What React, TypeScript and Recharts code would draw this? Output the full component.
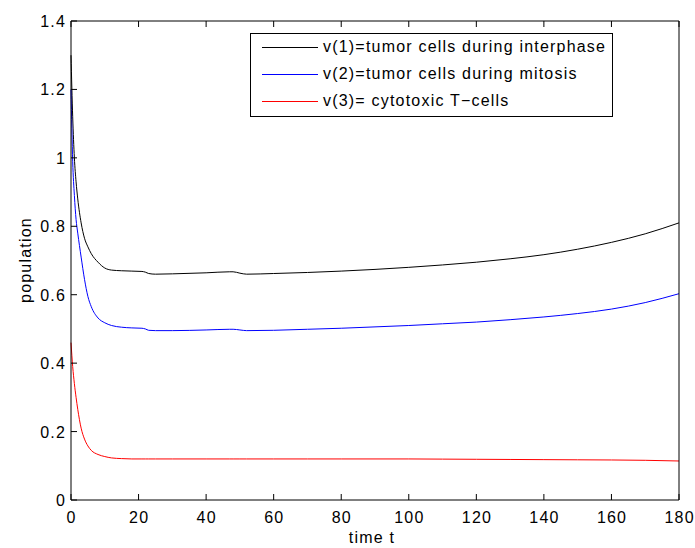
import React from 'react';
import {
  LineChart,
  Line,
  XAxis,
  YAxis,
  Legend,
  Label,
} from 'recharts';

// time samples (denser near t=0 where the curves drop fast)
const timeT = [
  0, 0.5, 1, 1.5, 2, 3, 4, 5, 6, 8, 10, 12, 15, 18, 21, 22, 23, 25, 30, 40, 47, 48, 50, 52,
  60, 70, 80, 90, 100, 110, 120, 130, 140, 150, 160, 170, 180,
];

// v(1) tumor cells during interphase
const interphase = [
  1.3, 1.12, 1.0, 0.93, 0.88, 0.81, 0.765, 0.74, 0.72, 0.695, 0.678, 0.672, 0.67, 0.669, 0.668,
  0.666, 0.662, 0.66, 0.661, 0.664, 0.667, 0.667, 0.663, 0.66, 0.662, 0.665, 0.669, 0.674, 0.68,
  0.687, 0.695, 0.705, 0.717, 0.733, 0.753, 0.778, 0.81,
];

// v(2) tumor cells during mitosis
const mitosis = [
  1.2, 0.99, 0.89, 0.82, 0.78, 0.71, 0.645, 0.595, 0.565, 0.532, 0.518, 0.51, 0.505, 0.503, 0.502,
  0.5, 0.496, 0.495, 0.495, 0.497, 0.499, 0.499, 0.497, 0.495, 0.496, 0.499, 0.502, 0.506, 0.51,
  0.515, 0.52, 0.527, 0.535, 0.545, 0.558, 0.577, 0.603,
];

// v(3) cytotoxic T-cells
const tCells = [
  0.46, 0.39, 0.34, 0.3, 0.265, 0.21, 0.178, 0.158, 0.145, 0.133, 0.127, 0.123, 0.121, 0.12, 0.12,
  0.12, 0.12, 0.12, 0.12, 0.12, 0.12, 0.12, 0.12, 0.12, 0.12, 0.12, 0.12, 0.12, 0.12, 0.1195,
  0.119, 0.1185, 0.118, 0.1175, 0.117, 0.116, 0.114,
];

const xTicks = [0, 20, 40, 60, 80, 100, 120, 140, 160, 180];
const yTicks = [0, 0.2, 0.4, 0.6, 0.8, 1, 1.2, 1.4];

const seriesInfo = [
  { key: 'v1', name: 'v(1)=tumor cells during interphase', color: '#000000' },
  { key: 'v2', name: 'v(2)=tumor cells during mitosis', color: '#0000ff' },
  { key: 'v3', name: 'v(3)= cytotoxic T\u2212cells', color: '#ff0000' },
];

const data = timeT.map((t, i) => ({
  t,
  v1: interphase[i],
  v2: mitosis[i],
  v3: tCells[i],
}));

const FONT = '"Liberation Sans", Arial, Helvetica, sans-serif';
const SPACING = 1.2; // helvetica in the original renders wider
const TICK_LEN = 6;

// matlab style: ticks point into the box, labels outside
const BottomTick = (props: any) => {
  const { x, y, payload } = props;
  return (
    <g>
      <line x1={x} y1={y} x2={x} y2={y - TICK_LEN} stroke="#000" />
      <text
        x={x + SPACING / 2}
        y={y + 23}
        textAnchor="middle"
        fontSize={16}
        fontFamily={FONT}
        letterSpacing={SPACING}
        fill="#000"
      >
        {payload.value}
      </text>
    </g>
  );
};

const TopTick = (props: any) => {
  const { x, y } = props;
  return <line x1={x} y1={y} x2={x} y2={y + TICK_LEN} stroke="#000" />;
};

const LeftTick = (props: any) => {
  const { x, y, payload } = props;
  return (
    <g>
      <line x1={x} y1={y} x2={x + TICK_LEN} y2={y} stroke="#000" />
      <text
        x={x - 5}
        y={y + 6}
        textAnchor="end"
        fontSize={16}
        fontFamily={FONT}
        letterSpacing={SPACING}
        fill="#000"
      >
        {payload.value}
      </text>
    </g>
  );
};

const RightTick = (props: any) => {
  const { x, y } = props;
  return <line x1={x} y1={y} x2={x - TICK_LEN} y2={y} stroke="#000" />;
};

const renderLegend = () => (
  <div
    style={{
      width: 361,
      height: 82,
      border: '1px solid #000',
      background: '#fff',
      fontFamily: FONT,
      fontSize: 16,
      letterSpacing: SPACING,
      color: '#000',
      boxSizing: 'content-box',
    }}
  >
    {seriesInfo.map((s, i) => (
      <div
        key={s.key}
        style={{ position: 'absolute', left: 0, top: 4 + i * 27, height: 20, display: 'flex', alignItems: 'center' }}
      >
        <span style={{ display: 'inline-block', marginLeft: 12, width: 56, height: 1, background: s.color }} />
        <span style={{ marginLeft: 5, whiteSpace: 'nowrap' }}>{s.name}</span>
      </div>
    ))}
  </div>
);

export default function App() {
  return (
    <div style={{ position: 'absolute', left: 0, top: 0, width: 695, height: 548, background: '#fff' }}>
      <LineChart width={695} height={548} data={data} margin={{ top: 0, right: 0, bottom: 0, left: 0 }}>
        <XAxis
          xAxisId="b"
          dataKey="t"
          type="number"
          domain={[0, 180]}
          ticks={xTicks}
          interval={0}
          height={48}
          tickSize={0}
          tickMargin={0}
          tickLine={false}
          tick={<BottomTick />}
          axisLine={{ stroke: '#000' }}
        >
          <Label
            content={() => (
              <text
                x={372}
                y={543}
                textAnchor="middle"
                fontSize={16}
                fontFamily={FONT}
                letterSpacing={SPACING}
                fill="#000"
              >
                time t
              </text>
            )}
          />
        </XAxis>
        <XAxis
          xAxisId="t"
          orientation="top"
          dataKey="t"
          type="number"
          domain={[0, 180]}
          ticks={xTicks}
          interval={0}
          height={21}
          tickSize={0}
          tickMargin={0}
          tickLine={false}
          tick={<TopTick />}
          axisLine={{ stroke: '#000' }}
        />
        <YAxis
          yAxisId="l"
          type="number"
          domain={[0, 1.4]}
          ticks={yTicks}
          interval={0}
          width={71}
          tickSize={0}
          tickMargin={0}
          tickLine={false}
          tick={<LeftTick />}
          axisLine={{ stroke: '#000' }}
        >
          <Label
            content={() => (
              <text
                x={31}
                y={260}
                transform="rotate(-90 31 260)"
                textAnchor="middle"
                fontSize={16}
                fontFamily={FONT}
                letterSpacing={SPACING}
                fill="#000"
              >
                population
              </text>
            )}
          />
        </YAxis>
        <YAxis
          yAxisId="r"
          orientation="right"
          type="number"
          domain={[0, 1.4]}
          ticks={yTicks}
          interval={0}
          width={16}
          tickSize={0}
          tickMargin={0}
          tickLine={false}
          tick={<RightTick />}
          axisLine={{ stroke: '#000' }}
        />
        <Legend
          layout="vertical"
          align="center"
          verticalAlign="middle"
          content={renderLegend}
          wrapperStyle={{ position: 'absolute', left: 250, top: 33, width: 363, height: 84 }}
        />
        {seriesInfo.map((s) => (
          <Line
            key={s.key}
            xAxisId="b"
            yAxisId="l"
            type="monotone"
            dataKey={s.key}
            name={s.name}
            stroke={s.color}
            strokeWidth={1}
            dot={false}
            activeDot={false}
            isAnimationActive={false}
          />
        ))}
      </LineChart>
    </div>
  );
}
